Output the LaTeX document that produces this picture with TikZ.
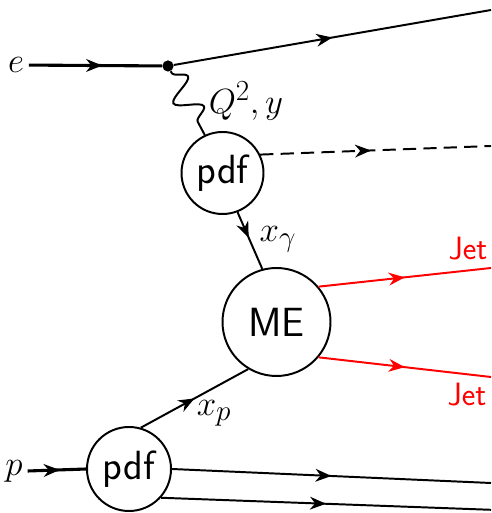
\documentclass[tikz,border=0pt]{standalone}
\usepackage{amsmath}
\usepackage{xcolor}
\usepackage{tikz}
\usetikzlibrary{positioning,arrows.meta,decorations.markings,decorations.pathmorphing}

\newcommand{\bigfont}{\fontsize{29}{34}\selectfont}

\begin{document}
\begin{tikzpicture}[
  every node/.style={font=\bigfont},
  blob/.style={draw, circle, line width=1.4pt, inner sep=0pt, font=\bigfont\sffamily},
  fermion/.style={line width=1.4pt, postaction={decorate},
    decoration={markings, mark=at position #1 with {\arrow{Stealth[length=4mm,width=3.2mm]}}}},
  fermion/.default=0.5,
  incoming/.style={fermion=0.55, line width=2.2pt},
  photon/.style={line width=1.4pt, decorate,
    decoration={snake, amplitude=3.2mm, segment length=8.5mm, pre length=0.5mm, post length=0.5mm}},
  jetlabel/.style={text=red, font=\fontsize{23}{27}\selectfont\sffamily},
]
\useasboundingbox (0,0) rectangle (12.275,12.825);

% ---------------- electron side ----------------
\node (eLab) at (0.4,11.2) {$e$};
\node[fill, circle, inner sep=0pt, minimum size=2.8mm] (vtx) at (4.2,11.175) {};
\coordinate (eOut) at (12.275,12.575);
\draw[incoming] (eLab) -- (vtx);
\draw[fermion] (vtx) -- (eOut);

% photon and its pdf
\node[blob, minimum size=2.05cm] (pdfg) at (5.5625,8.5) {pdf};
\draw[photon] (vtx) -- (pdfg.115);
\node (qlab) at (6.15,10.3) {$Q^2,y$};
\coordinate (gOut) at (12.275,9.175);
\draw[fermion=0.48, dash pattern=on 3.3mm off 1.8mm] (pdfg.26) -- (gOut);

% ---------------- hard process ----------------
\node[blob, minimum size=2.7cm] (ME) at (6.9125,4.775) {ME};
\draw[fermion=0.45] (pdfg.-69) -- (ME.105);
\node (xglab) at (6.95,6.85) {$x_\gamma$};

\coordinate (jet1) at (12.275,6.125);
\coordinate (jet2) at (12.275,3.4);
\draw[fermion, red] (ME.40) -- (jet1);
\draw[fermion, red] (ME.-40) -- (jet2);
\node[jetlabel] (j1lab) at (11.7,6.6) {Jet};
\node[jetlabel] (j2lab) at (11.675,2.95) {Jet};

% ---------------- proton side ----------------
\node (pLab) at (0.35,1.05) {$p$};
\node[blob, minimum size=2.1cm] (pdfp) at (3.225,1.1) {pdf};
\draw[incoming] (pLab.east) -- (pdfp.west);
\draw[fermion] (pdfp.74) -- (ME.239);
\node (xplab) at (5.35,2.5) {$x_p$};

\coordinate (rem1) at (12.275,0.75);
\coordinate (rem2) at (12.275,0.08);
\draw[fermion] (pdfp.east) -- (rem1);
\draw[fermion] (pdfp.-42) -- (rem2);
\end{tikzpicture}
\end{document}
